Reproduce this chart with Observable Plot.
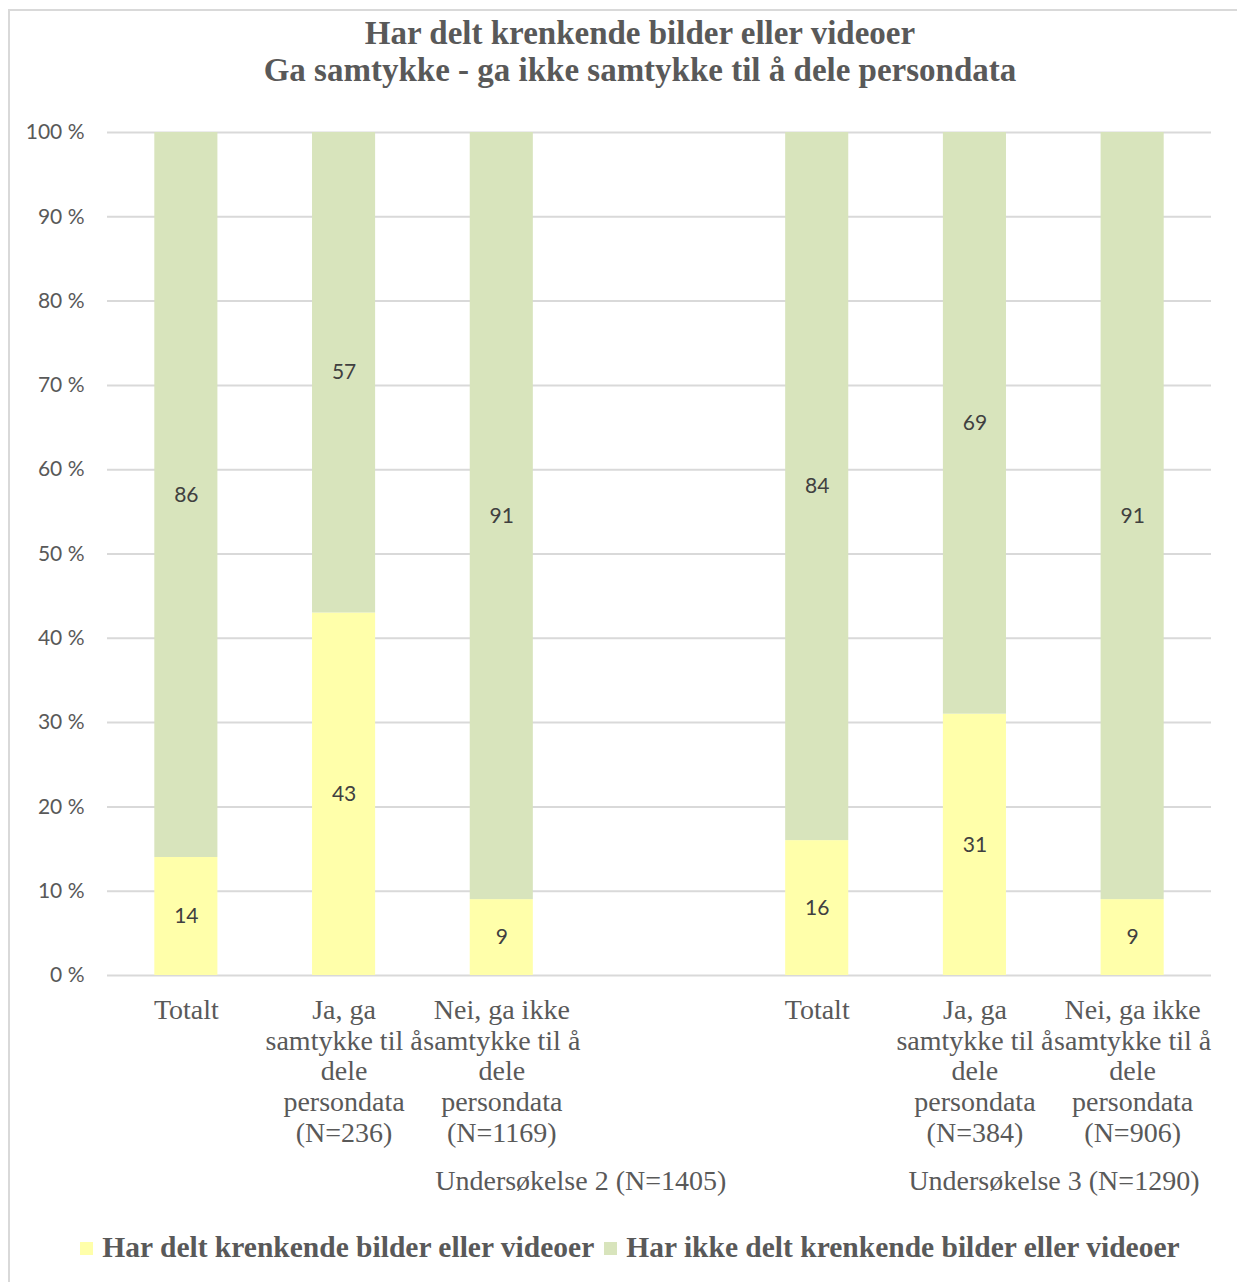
<!DOCTYPE html>
<html>
<head>
<meta charset="utf-8">
<script src="https://cdn.jsdelivr.net/npm/d3@7"></script>
<script src="https://cdn.jsdelivr.net/npm/@observablehq/plot@0.6"></script>
<style>
  html, body { margin: 0; padding: 0; background: #fff; width: 1237px; height: 1282px; overflow: hidden; }
  #frame { position: absolute; left: 8px; top: 9px; width: 1300px; height: 1300px; border-top: 2px solid #d9d9d9; border-left: 2px solid #d9d9d9; box-sizing: border-box; }
  #title { position: absolute; left: 0; top: 15px; width: 1280px; text-align: center; font-family: "Liberation Serif", "Times New Roman", serif; font-weight: bold; font-size: 33px; line-height: 37px; color: #595959; }
  #chart { position: absolute; left: 0; top: 0; }
  #legend { position: absolute; left: 0; top: 1229px; width: 1260px; height: 36px; display: flex; justify-content: center; align-items: center; font-family: "Liberation Serif", "Times New Roman", serif; font-weight: bold; font-size: 29.5px; color: #595959; }
  #legend .item { display: flex; align-items: center; margin: 0 5px; }
  #legend .sw { width: 13px; height: 13px; margin-right: 9px; margin-top: 3px; }
</style>
</head>
<body>
<div id="frame"></div>
<div id="chart"></div>
<div id="title">Har delt krenkende bilder eller videoer<br>Ga samtykke - ga ikke samtykke til å dele persondata</div>
<div id="legend"></div>
<script>
// ---- data ----
const categories = ["U2-Totalt", "U2-Ja", "U2-Nei", "gap", "U3-Totalt", "U3-Ja", "U3-Nei"];
const categoryLabels = [
  "Totalt",
  "Ja, ga\nsamtykke til å\ndele\npersondata\n(N=236)",
  "Nei, ga ikke\nsamtykke til å\ndele\npersondata\n(N=1169)",
  "",
  "Totalt",
  "Ja, ga\nsamtykke til å\ndele\npersondata\n(N=384)",
  "Nei, ga ikke\nsamtykke til å\ndele\npersondata\n(N=906)"
];
const seriesNames = ["Har delt krenkende bilder eller videoer", "Har ikke delt krenkende bilder eller videoer"];
const seriesColors = ["#FFFFAA", "#D8E4BC"];
const harDelt =     [14, 43, 9, null, 16, 31, 9];
const harIkkeDelt = [86, 57, 91, null, 84, 69, 91];
const groupLabels = ["Undersøkelse 2 (N=1405)", "Undersøkelse 3 (N=1290)"];
const groupAnchor = ["U2-Nei", "U3-Ja"];
const yTicks = [0, 10, 20, 30, 40, 50, 60, 70, 80, 90, 100];

// ---- build table ----
const rows = [];
categories.forEach((c, i) => {
  if (harDelt[i] != null) rows.push({cat: c, series: seriesNames[0], value: harDelt[i]});
});
categories.forEach((c, i) => {
  if (harIkkeDelt[i] != null) rows.push({cat: c, series: seriesNames[1], value: harIkkeDelt[i]});
});
const labelOf = new Map(categories.map((c, i) => [c, categoryLabels[i]]));
const groups = groupLabels.map((g, i) => ({cat: groupAnchor[i], label: g}));

const W = 1237, H = 1215;
const plot = Plot.plot({
  width: W,
  height: H,
  marginLeft: 107,
  marginRight: 26,
  marginTop: 132,
  marginBottom: H - 975,
  style: {background: "transparent"},
  x: {domain: categories, paddingInner: 0.6, paddingOuter: 0.3, round: false, axis: null},
  y: {domain: [0, 100], axis: null},
  color: {domain: seriesNames, range: seriesColors},
  marks: [
    Plot.ruleY(yTicks, {y: d => d, stroke: "#d9d9d9", strokeWidth: 2}),
    Plot.axisY(yTicks, {
      tickSize: 0, tickPadding: 23,
      tickFormat: d => d + " %",
      fontSize: 21, fill: "#595959",
      fontFamily: "Lato, 'Open Sans', sans-serif",
      label: null
    }),
    Plot.barY(rows, {x: "cat", y: "value", fill: "series", order: seriesNames}),
    Plot.text(rows, Plot.stackY({
      x: "cat", y: "value", z: "series", order: seriesNames,
      text: d => String(d.value),
      fontSize: 21, fill: "#404040",
      fontFamily: "Lato, 'Open Sans', sans-serif"
    })),
    Plot.text(categories.filter(c => c !== "gap"), {
      x: d => d, text: d => labelOf.get(d),
      frameAnchor: "bottom", lineAnchor: "top", dy: 21,
      lineHeight: 1.107,
      fontSize: 28, fill: "#595959",
      fontFamily: "'Liberation Serif', 'Times New Roman', serif"
    }),
    Plot.text(groups, {
      x: "cat", text: "label",
      frameAnchor: "bottom", lineAnchor: "middle", dy: 206, dx: 79,
      fontSize: 28, fill: "#595959",
      fontFamily: "'Liberation Serif', 'Times New Roman', serif"
    })
  ]
});
document.getElementById("chart").appendChild(plot);

// ---- legend ----
const legend = document.getElementById("legend");
seriesNames.forEach((s, i) => {
  const item = document.createElement("div");
  item.className = "item";
  const sw = document.createElement("span");
  sw.className = "sw";
  sw.style.background = seriesColors[i];
  const t = document.createElement("span");
  t.textContent = s;
  item.appendChild(sw);
  item.appendChild(t);
  legend.appendChild(item);
});
</script>
</body>
</html>
